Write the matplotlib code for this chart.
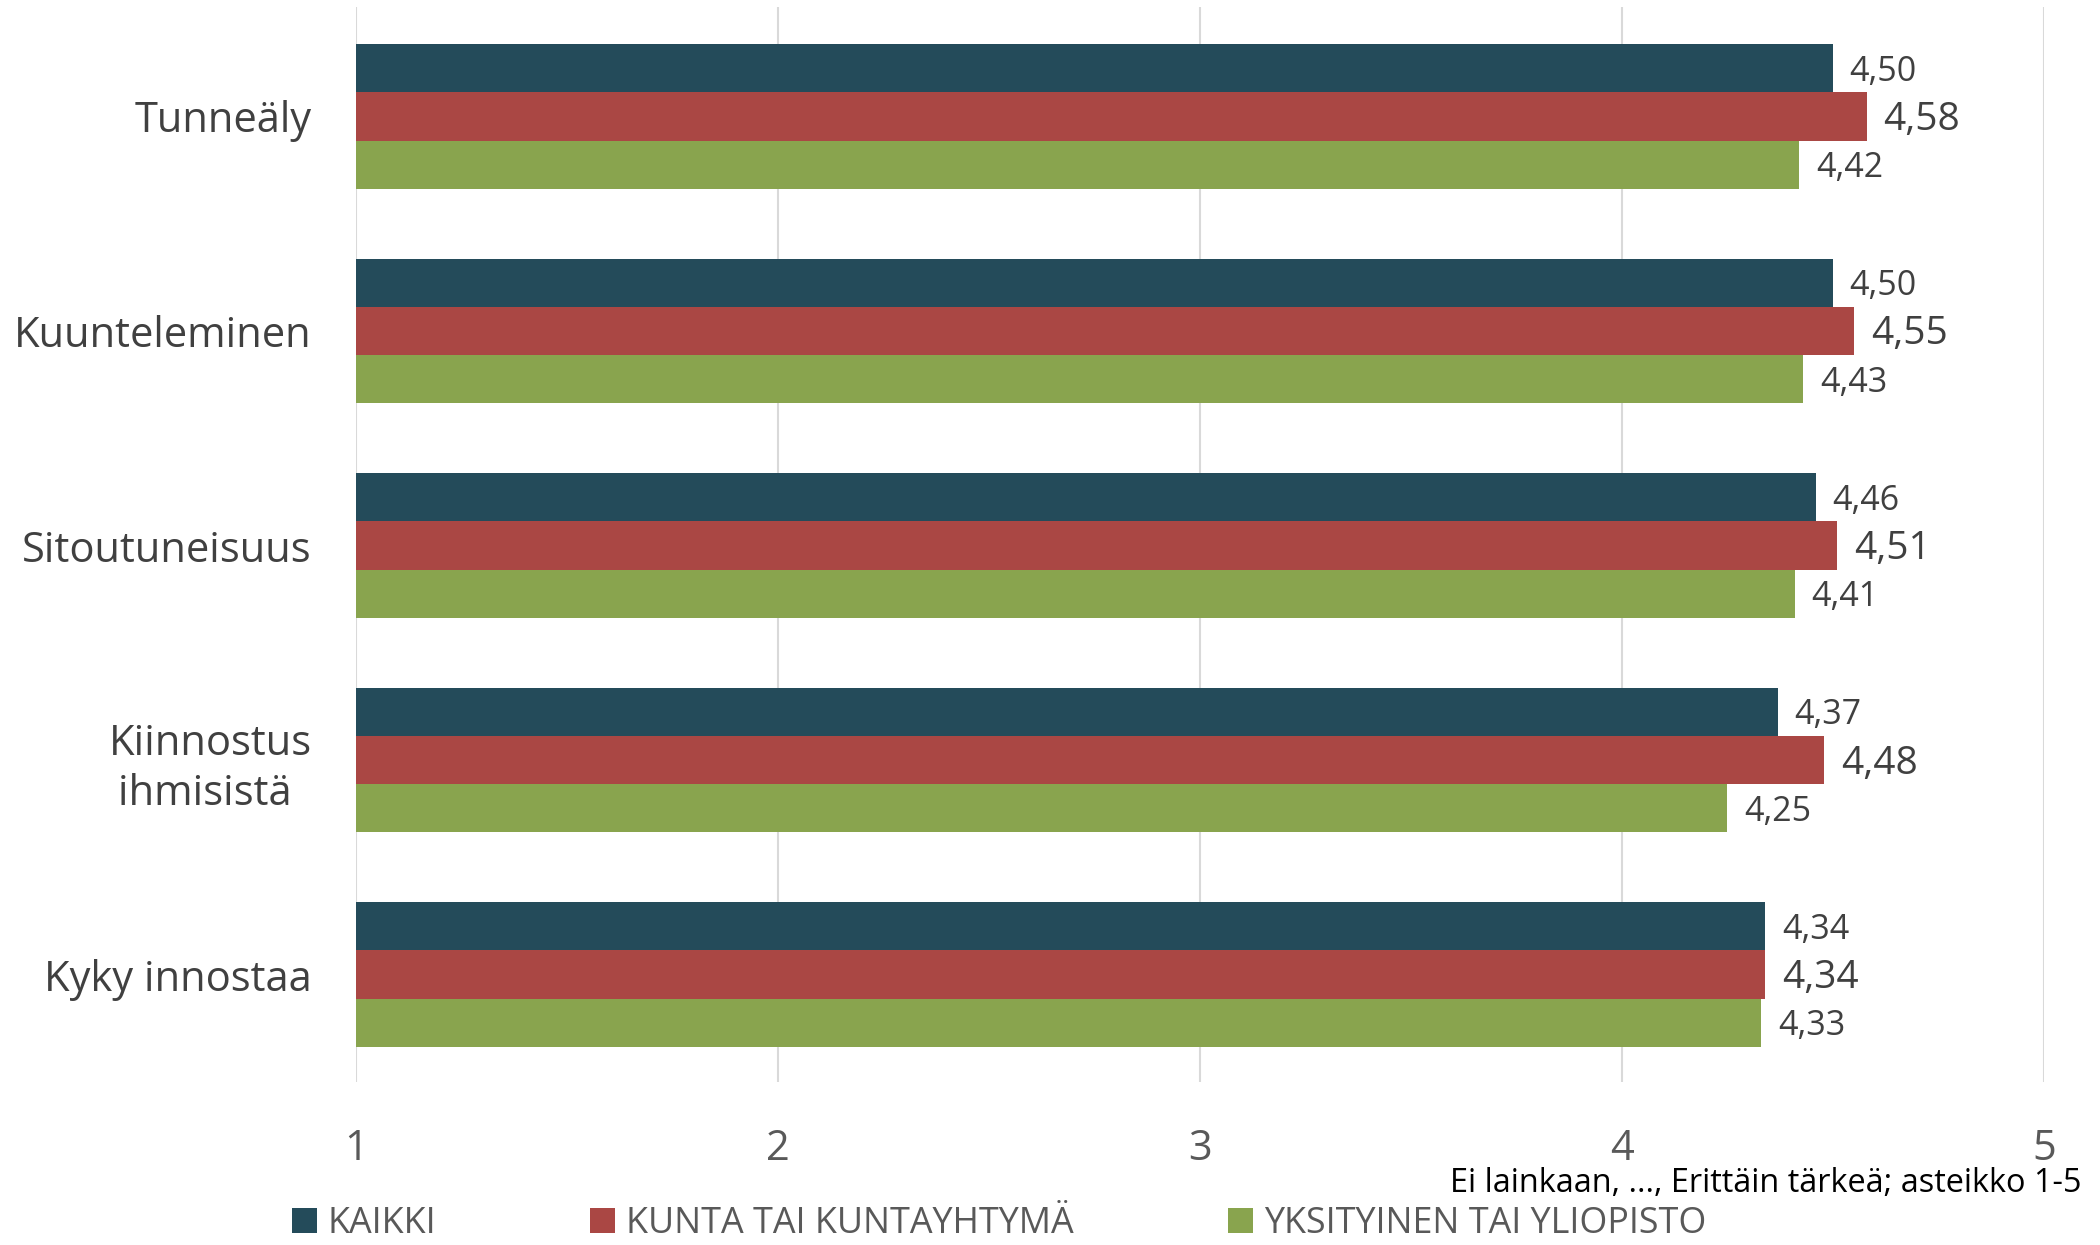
import matplotlib.pyplot as plt
import numpy as np

plt.rcParams['font.family'] = ['Open Sans', 'DejaVu Sans']

categories = ["Tunneäly", "Kuunteleminen", "Sitoutuneisuus", "Kiinnostus\nihmisistä ", "Kyky innostaa"]
series_names = ["KAIKKI", "KUNTA TAI KUNTAYHTYMÄ", "YKSITYINEN TAI YLIOPISTO"]
kaikki = [4.50, 4.50, 4.46, 4.37, 4.34]
kunta = [4.58, 4.55, 4.51, 4.48, 4.34]
yksityinen = [4.42, 4.43, 4.41, 4.25, 4.33]
x_ticks = [1, 2, 3, 4, 5]
note = "Ei lainkaan, ..., Erittäin tärkeä; asteikko 1-5"

colors = ["#244b5a", "#aa4744", "#89a44e"]
label_sizes = [24.5, 28, 24.5]

fig = plt.figure(figsize=(21, 12.45), dpi=100)
ax = fig.add_axes([0.1695, 0.131, 0.8038, 0.8634])

y = np.arange(len(categories))
h = 0.225
for i, (vals, name) in enumerate(zip([kaikki, kunta, yksityinen], series_names)):
    vals = np.array(vals)
    pos = y + (i - 1) * h
    bars = ax.barh(pos, vals - 1, left=1, height=h, color=colors[i], label=name)
    for b, v in zip(bars, vals):
        ax.annotate(f"{v:.2f}".replace(".", ","), (v, b.get_y() + h / 2),
                    xytext=(12, -2.5), textcoords="offset points",
                    va="center", ha="left", fontsize=label_sizes[i], color="#404040")

ax.set_xlim(1, 5)
ax.set_ylim(4.5, -0.51)
ax.set_xticks(x_ticks)
ax.set_xticklabels([str(t) for t in x_ticks])
ax.set_yticks(y)
ax.set_yticklabels(categories, multialignment="center", linespacing=1.25)
ax.tick_params(axis="x", length=0, pad=33, labelsize=30, labelcolor="#595959")
ax.tick_params(axis="y", length=0, pad=32, labelsize=30, labelcolor="#404040")
ax.grid(axis="x", color="#d9d9d9", linewidth=1.5)
ax.set_axisbelow(True)
for s in ax.spines.values():
    s.set_visible(False)

fig.text(0.991, 0.049, note, ha="right", va="center", fontsize=23.4, color="#000000")

handles, labels = ax.get_legend_handles_labels()
fig.legend(handles, labels, ncol=3, loc="center left", bbox_to_anchor=(0.127, 0.017),
           frameon=False, fontsize=25.8, labelcolor="#595959", handlelength=0.7,
           handleheight=0.7, handletextpad=0.3, columnspacing=4.3,
           borderpad=0.2)

fig.savefig("out.png", dpi=100)
